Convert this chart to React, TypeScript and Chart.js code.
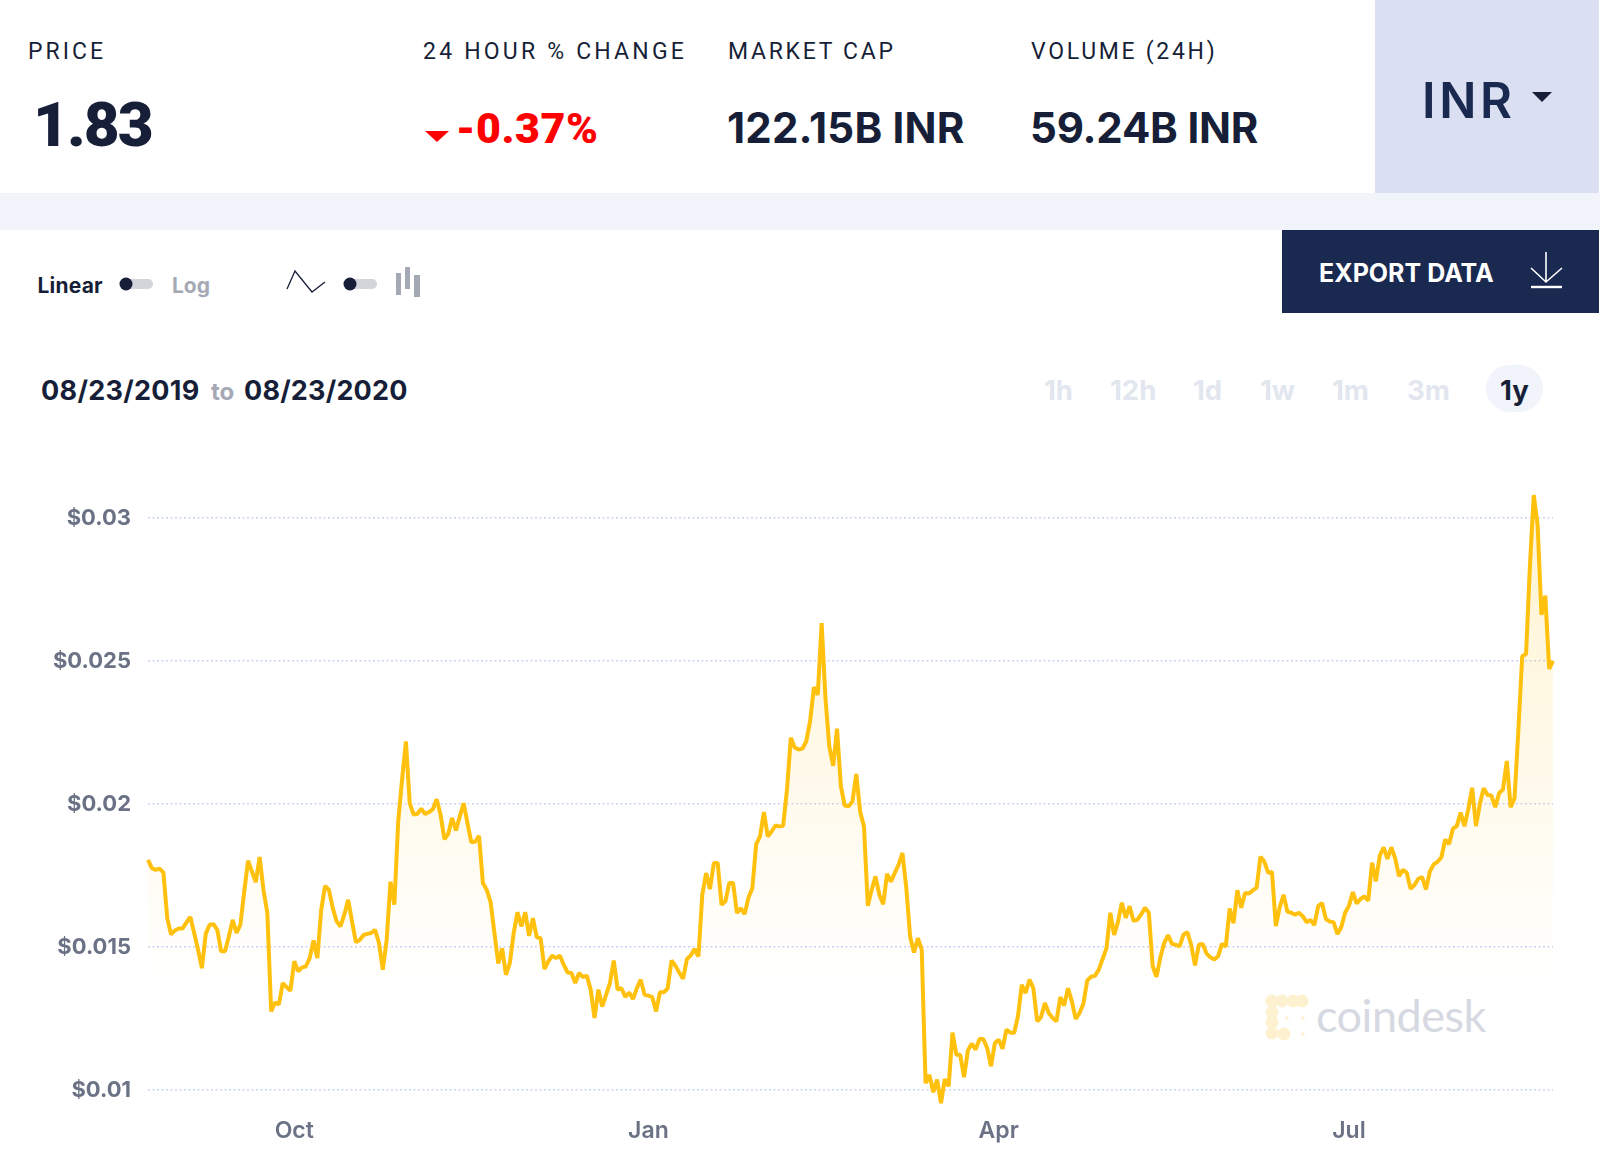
import React, { useEffect, useRef } from "react";
import { Chart, registerables } from "chart.js";

Chart.register(...registerables);

// Daily price, 08/23/2019 to 08/23/2020
const priceAug2019ToDec2019 = [
  0.01804,0.01775,0.01769,0.01773,0.0176,0.016,0.01543,0.01557,0.01564,0.01564,
  0.01585,0.01604,0.01548,0.0149,0.01425,0.01545,0.01577,0.01579,0.01559,0.01484,
  0.01484,0.01536,0.01594,0.01548,0.01577,0.01693,0.01801,0.01763,0.01726,0.01814,
  0.01699,0.01618,0.01274,0.01305,0.01298,0.01373,0.01359,0.01346,0.01449,0.01414,
  0.01428,0.01431,0.0146,0.01522,0.0146,0.01629,0.01713,0.01699,0.01635,0.01589,
  0.01571,0.01612,0.01664,0.01589,0.01516,0.01524,0.01541,0.01545,0.01548,0.01559,
  0.01513,0.0142,0.01524,0.01728,0.01647,0.01938,0.02084,0.02218,0.02002,0.01962,
  0.01965,0.01983,0.01964,0.01971,0.01981,0.02016,0.01962,0.01876,0.01895,0.0195,
  0.01907,0.01956,0.02002,0.01932,0.01865,0.01868,0.01888,0.01723,0.01699,0.01656,
  0.01548,0.01441,0.01495,0.01402,0.01443,0.01548,0.01621,0.01571,0.01621,0.01538,
  0.016,0.01533,0.0153,0.01422,0.01449,0.01469,0.0146,0.01469,0.01437,0.0141,
  0.01408,0.01373,0.01408,0.01394,0.01399,0.0135,0.01251,0.0135,0.01291,0.01332,
  0.01373,
];
const priceDec2019ToApr2020 = [
  0.01452,0.0135,0.01355,0.01324,0.0134,0.01317,0.01355,0.01385,0.01332,0.01329,
  0.01324,0.01274,0.01341,0.01341,0.01354,0.01452,0.01434,0.0141,0.01388,0.01457,
  0.01469,0.01492,0.01466,0.01682,0.01758,0.01702,0.01793,0.01793,0.01647,0.01659,
  0.01723,0.01723,0.01618,0.01635,0.01614,0.01672,0.01705,0.01859,0.01886,0.01971,
  0.01886,0.01903,0.01924,0.01921,0.01923,0.02049,0.02231,0.02197,0.0219,0.02193,
  0.02218,0.02288,0.02408,0.02381,0.02632,0.02369,0.022,0.02133,0.02263,0.02061,
  0.01994,0.01991,0.02008,0.02104,0.01973,0.01921,0.01643,0.01699,0.01746,0.01682,
  0.01649,0.01755,0.01728,0.01758,0.01787,0.01828,0.01705,0.01534,0.0148,0.0153,
  0.0149,0.01023,0.01052,0.00991,0.01035,0.00953,0.01037,0.01012,0.012,0.01122,
  0.01122,0.01044,0.01138,0.01161,0.0114,0.01177,0.01177,0.01146,0.01082,0.01163,
  0.01175,0.01143,0.0121,0.012,0.01198,0.01256,0.01367,0.01338,0.01385,0.01355,
  0.01239,0.01254,0.01303,0.01268,0.01251,0.01239,0.01324,0.01294,0.01355,0.01309,
  0.01248,0.01268,
];
const priceApr2020ToAug2020 = [
  0.01301,0.01382,0.01395,0.01398,0.0142,0.01457,0.01495,0.01619,0.01541,0.01588,
  0.01654,0.01601,0.01642,0.01591,0.01594,0.01613,0.01636,0.01619,0.01432,0.01395,
  0.01463,0.01513,0.01541,0.0151,0.01507,0.01501,0.01542,0.01551,0.01507,0.01435,
  0.01507,0.0151,0.01476,0.01463,0.01455,0.01467,0.0151,0.01501,0.01634,0.01582,
  0.01698,0.01636,0.01688,0.01686,0.01697,0.01707,0.01815,0.01798,0.01759,0.01762,
  0.01572,0.01638,0.01682,0.01623,0.01619,0.01612,0.01619,0.01607,0.01586,0.01594,
  0.01576,0.01642,0.01653,0.01597,0.01588,0.01586,0.01544,0.01569,0.01619,0.01644,
  0.01691,0.01651,0.01667,0.01676,0.01661,0.01794,0.01729,0.01819,0.01848,0.01807,
  0.01848,0.01809,0.01747,0.01769,0.01759,0.01703,0.01716,0.01738,0.01744,0.01701,
  0.01763,0.01788,0.01797,0.01813,0.01875,0.01859,0.01913,0.01922,0.01969,0.01922,
  0.01982,0.02056,0.01922,0.02,0.02054,0.02031,0.02029,0.01988,0.02038,0.0205,
  0.0215,0.01988,0.02019,0.02256,0.02516,0.02524,0.02831,0.0308,0.02975,0.02661,
  0.02728,0.02472,0.025,
];
const yTickValues = [0.01, 0.015, 0.02, 0.025, 0.03];
const yTickLabels = ["$0.01", "$0.015", "$0.02", "$0.025", "$0.03"];
const xTickDays = [38, 130, 221, 312];
const xTickLabels = ["Oct", "Jan", "Apr", "Jul"];
const rangeButtons = ["1h", "12h", "1d", "1w", "1m", "3m", "1y"];

const INK = "#171f38";
const NAVY = "#1a294f";
const MUTED = "#a5a9b5";
const FAINT = "#e2e6ef";
const TRACK = "#d3d5db";
const BAND = "#f1f4fa";
const LOGO = "#fdf1d0";

const rangeX = [1044, 1110, 1193, 1260, 1332, 1407, 1500];

function Chrome() {
  const t = (s: string, x: number, y: number, size: number, weight: number, fill: string, font = "Inter", ls = 0) => (
    <text x={x} y={y} fontSize={size} fontWeight={weight} fill={fill} fontFamily={font} letterSpacing={ls}>{s}</text>
  );
  return (
    <svg width={1600} height={1169} style={{ position: "absolute", left: 0, top: 0 }}>
      <rect x={0} y={0} width={1600} height={1169} fill="#ffffff" />
      <rect x={0} y={193} width={1600} height={37} fill={BAND} />
      <rect x={1375} y={0} width={224} height={193} fill="#dae0f2" />

      {t("PRICE", 28, 59, 23, 400, INK, "Roboto", 3)}
      {t("24 HOUR % CHANGE", 423, 59, 23, 400, INK, "Roboto", 3.2)}
      {t("MARKET CAP", 728, 59, 23, 400, INK, "Roboto", 2.7)}
      {t("VOLUME (24H)", 1031, 59, 23, 400, INK, "Roboto", 2.7)}

      {t("1.83", 33, 146, 62, 900, INK, "Roboto", -2)}
      <polygon points="425,131 449,131 437,142" fill="#ff0000" />
      {t("-0.37%", 456, 143, 43, 900, "#ff0000", "Roboto", 0.6)}
      {t("122.15B INR", 727, 143, 42, 700, INK, "Inter", 0.2)}
      {t("59.24B INR", 1030, 143, 42, 700, INK, "Inter", -0.2)}

      {t("INR", 1422, 118, 49, 600, NAVY, "Inter", 3.6)}
      <polygon points="1532,92 1552,92 1542,102" fill={INK} />

      <rect x={1282} y={230} width={317} height={83} fill={NAVY} />
      {t("EXPORT DATA", 1319, 282, 25, 700, "#ffffff")}
      <g stroke="#ffffff" strokeWidth={1.6} fill="none">
        <path d="M1546 252 V282 M1531 268 L1546 282 L1562 268" />
        <path d="M1531 287 H1562" strokeWidth={2.4} />
      </g>

      {t("Linear", 37.5, 293, 21, 700, INK, "Inter", 0.2)}
      <rect x={120} y={279} width={33} height={10} rx={5} fill={TRACK} />
      <circle cx={126} cy={284} r={6.5} fill={INK} />
      {t("Log", 172, 293, 21, 700, MUTED)}
      <polyline points="287,289 295,271 312,292 325,282" fill="none" stroke={INK} strokeWidth={1.3} />
      <rect x={344} y={279} width={33} height={10} rx={5} fill={TRACK} />
      <circle cx={350} cy={284} r={6.5} fill={INK} />
      <rect x={396} y={273} width={5} height={22} fill={MUTED} />
      <rect x={405} y={267} width={5} height={22} fill={MUTED} />
      <rect x={414} y={275} width={6} height={22} fill={MUTED} />

      {t("08/23/2019", 41, 400, 27, 700, INK, "Inter", 0.3)}
      {t("to", 211, 400, 24, 700, MUTED)}
      {t("08/23/2020", 244, 400, 27, 700, INK, "Inter", 0.2)}

      <rect x={1486} y={365} width={57} height={47} rx={23.5} fill={BAND} />
      {rangeButtons.map((b, i) => (
        <text key={b} x={rangeX[i]} y={400} fontSize={27.5} fontWeight={700} fontFamily="Inter" fill={b === "1y" ? INK : FAINT}>{b}</text>
      ))}

      <g fill={LOGO}>
        {[1272, 1282, 1293, 1302].map((x) => <circle key={x} cx={x} cy={1001} r={6.5} />)}
        {[1001, 1012, 1022, 1033].map((y) => <circle key={y} cx={1272} cy={y} r={6.5} />)}
        <circle cx={1284} cy={1034} r={6.5} />
        <circle cx={1287} cy={1018} r={1.8} />
        <circle cx={1303} cy={1018} r={1.8} />
        <circle cx={1303} cy={1034} r={1.8} />
      </g>
      {t("coindesk", 1316, 1032, 45, 400, "#d6d9e1", "Lato", -0.5)}
    </svg>
  );
}

export default function App() {
  const ref = useRef<HTMLCanvasElement>(null);
  useEffect(() => {
    if (!ref.current) return;
    const prices = [...priceAug2019ToDec2019, ...priceDec2019ToApr2020, ...priceApr2020ToAug2020];
    const chart = new Chart(ref.current, {
      type: "line",
      data: {
        datasets: [
          {
            data: prices.map((y, x) => ({ x, y })),
            borderColor: "#ffc10e",
            borderWidth: 4,
            borderJoinStyle: "bevel",
            pointRadius: 0,
            tension: 0,
            fill: "start",
            clip: false,
            backgroundColor: (c: any) => {
              const area = c.chart.chartArea;
              if (!area) return "rgba(255,193,14,0.1)";
              const g = c.chart.ctx.createLinearGradient(0, c.chart.scales.y.getPixelForValue(0.03), 0, c.chart.scales.y.getPixelForValue(0.0135));
              g.addColorStop(0, "rgba(255,193,14,0.185)");
              g.addColorStop(1, "rgba(255,193,14,0)");
              return g;
            },
          },
        ],
      },
      options: {
        responsive: false,
        animation: false,
        devicePixelRatio: 1,
        layout: { autoPadding: false, padding: { top: 475, right: 47, left: 0, bottom: 0 } },
        plugins: { legend: { display: false }, tooltip: { enabled: false } },
        scales: {
          x: {
            type: "linear",
            min: 0,
            max: prices.length - 1,
            grid: { display: false },
            border: { display: false },
            afterFit: (s: any) => { s.height = 65; },
            afterBuildTicks: (s: any) => { s.ticks = xTickDays.map((value) => ({ value })); },
            ticks: {
              autoSkip: false,
              maxRotation: 0,
              padding: 5,
              color: "#6b7285",
              font: { family: "Inter", size: 23, weight: "600" },
              callback: (v: any) => xTickLabels[xTickDays.indexOf(v)],
            },
          },
          y: {
            min: 0.0095,
            max: 0.0315,
            grid: {
              color: "#c9d3f7",
              lineWidth: 1.5,
              tickLength: 0,
              drawTicks: false,
            },
            border: { display: false, dash: [2, 2.5] },
            afterFit: (s: any) => { s.width = 148; },
            afterBuildTicks: (s: any) => { s.ticks = yTickValues.map((value) => ({ value })); },
            ticks: {
              padding: 17,
              labelOffset: 1,
              color: "#6b7285",
              font: { family: "Inter", size: 22, weight: "700" },
              callback: (v: any) => yTickLabels[yTickValues.indexOf(v)],
            },
          },
        },
      } as any,
    });
    return () => chart.destroy();
  }, []);
  return (
    <div style={{ position: "absolute", left: 0, top: 0, width: 1600, height: 1169, background: "#fff", overflow: "hidden" }}>
      <Chrome />
      <canvas ref={ref} width={1600} height={1169} style={{ position: "absolute", left: 0, top: 0 }} />
    </div>
  );
}
